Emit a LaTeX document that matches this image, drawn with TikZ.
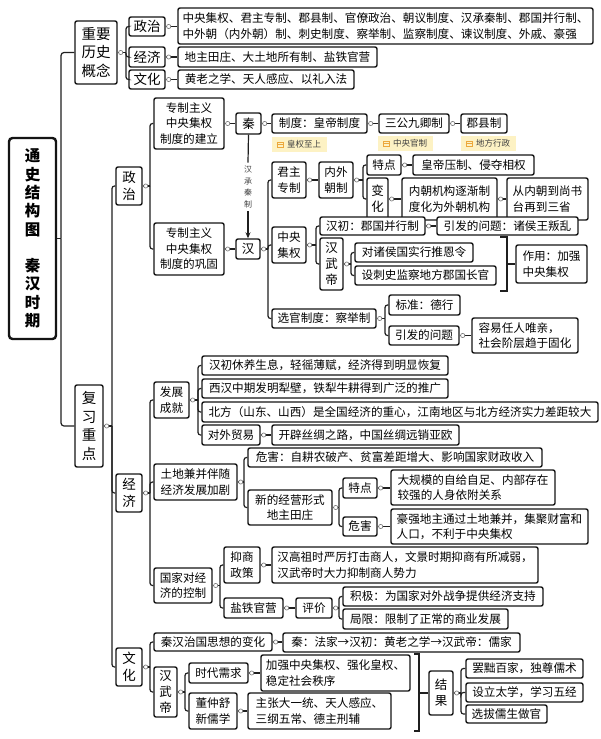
\documentclass[tikz,border=0pt]{standalone}
\usepackage{fontspec}
\setmainfont{Noto Sans CJK SC}
\usetikzlibrary{arrows.meta}
\newcommand{\fs}[2]{\fontsize{#1}{#2}\selectfont}
\definecolor{tagfill}{RGB}{253,242,196}
\definecolor{tagicn}{RGB}{236,168,60}
\tikzset{
 box/.style={draw=black!92, line width=1.4pt, rounded corners=2pt, fill=white, inner sep=1pt, font=\fs{11.6}{15.5}, align=center, text=black},
 lbox/.style={box, align=left},
 hbig/.style={box, font=\fs{14.5}{18.5}},
 hmid/.style={box, font=\fs{13.5}{17}},
 vcol/.style={box, font=\fs{12.5}{16}},
 titlebox/.style={box, line width=2.4pt, rounded corners=3.5pt, font=\bfseries\fs{15.5}{18.3}},
 ln/.style={draw=black!88, line width=1.2pt},
 dotc/.style={circle, draw=black!55, fill=white, line width=0.6pt, inner sep=0pt, minimum size=4.2pt},
 tagbg/.style={fill=tagfill, inner sep=0pt},
 tagicon/.style={draw=tagicn, line width=0.6pt},
 tagtxt/.style={inner sep=0pt, font=\fs{8.5}{10}, text=black!75},
 chtxt/.style={inner sep=0pt, font=\fs{8}{11.7}, text=black!75, align=center}
}
\newcommand{\bx}[7][box]{%
 \pgfmathsetmacro\bxw{#5-#3}%
 \pgfmathsetmacro\bxh{#6-#4}%
 \pgfmathsetmacro\bxx{(#3+#5)/2}%
 \pgfmathsetmacro\bxy{(#4+#6)/2}%
 \node[#1, minimum width=\bxw pt, minimum height=\bxh pt] (#2) at (\bxx,\bxy) {#7};}
\newcommand{\br}[3]{%
 \coordinate (vx) at (#2,0);
 \draw[ln] (#1.east) -- (#1.east -| vx);
 \foreach \ch in {#3}{\draw[ln,rounded corners=2.5pt] (#1.east -| vx) |- (\ch.west);}
 \node[dotc] at ([xshift=3pt]#1.east) {};}
\newcommand{\lk}[2]{%
 \draw[ln] (#1.east) -- (#1.east -| #2.west);
 \node[dotc] at ([xshift=3pt]#1.east) {};}
\newcommand{\tg}[6]{%
 \pgfmathsetmacro\bxw{#4-#2}%
 \pgfmathsetmacro\bxh{#5-#3}%
 \pgfmathsetmacro\bxx{(#2+#4)/2}%
 \pgfmathsetmacro\bxy{(#3+#5)/2}%
 \node[tagbg, minimum width=\bxw pt, minimum height=\bxh pt] (#1) at (\bxx,\bxy) {};
 \draw[tagicon] ([xshift=5pt,yshift=-2.6pt]#1.west) rectangle ([xshift=11pt,yshift=2.6pt]#1.west);
 \draw[tagicon] ([xshift=5pt]#1.west) -- ([xshift=11pt]#1.west);
 \node[tagtxt, anchor=west] (#1t) at ([xshift=15pt]#1.west) {#6};}
\begin{document}
\begin{tikzpicture}[x=1pt,y=-1pt]
\fill[white] (0,0) rectangle (600,739);
\useasboundingbox (0,0) rectangle (600,739);

% level 0
\bx[titlebox]{T}{9}{138}{56}{339}{通\\史\\结\\构\\图\\[18.3pt]秦\\汉\\时\\期}
\bx[hbig]{A}{75}{21}{117}{84}{重要\\历史\\概念}
\bx[hbig]{B}{75}{385}{103}{467}{复\\习\\重\\点}
\coordinate (v0) at (61,0);
\draw[ln] (T.east) -- (T.east -| v0);
\draw[ln,rounded corners=3pt] (T.east -| v0) |- (A.west);
\draw[ln,rounded corners=3pt] (T.east -| v0) |- (B.west);

% 重要历史概念
\bx[hmid]{A1}{129}{17}{165}{36}{政治}
\bx[hmid]{A2}{129}{47}{165}{67}{经济}
\bx[hmid]{A3}{129}{70}{165}{89}{文化}
\br{A}{126}{A1,A2,A3}
\bx[lbox]{A1c}{178}{8}{593}{44}{中央集权、君主专制、郡县制、官僚政治、朝议制度、汉承秦制、郡国并行制、\\中外朝（内外朝）制、刺史制度、察举制、监察制度、谏议制度、外戚、豪强}
\bx[lbox]{A2c}{178}{47}{377}{67}{地主田庄、大土地所有制、盐铁官营}
\bx[lbox]{A3c}{178}{70}{354}{89}{黄老之学、天人感应、以礼入法}
\lk{A1}{A1c}\lk{A2}{A2c}\lk{A3}{A3c}

% 复习重点
\bx[hmid]{P}{116}{167}{142}{205}{政\\治}
\bx[hmid]{E}{116}{474}{142}{512}{经\\济}
\bx[hmid]{C}{116}{648}{142}{686}{文\\化}
\br{B}{112}{P,E,C}

% 政治
\bx{P1}{154}{98}{224}{149}{专制主义\\中央集权\\制度的建立}
\bx{P2}{154}{223}{224}{275}{专制主义\\中央集权\\制度的巩固}
\br{P}{150}{P1,P2}
\bx[vcol]{Qin}{236}{113}{261}{134}{秦}
\bx[vcol]{Han}{236}{239}{260}{259}{汉}
\lk{P1}{Qin}\lk{P2}{Han}
\bx{Q1}{272}{114}{367}{133}{制度：皇帝制度}
\bx{Q2}{379}{114}{449}{133}{三公九卿制}
\bx{Q3}{461}{114}{507}{133}{郡县制}
\lk{Qin}{Q1}\lk{Q1}{Q2}\lk{Q2}{Q3}
\tg{tgA}{272}{137}{327}{152}{皇权至上}
\tg{tgB}{378}{136}{433}{151}{中央官制}
\tg{tgC}{461}{136}{516}{151}{地方行政}
\node[chtxt] (cz) at (248,187) {汉\\承\\秦\\制};
\draw[ln] (Qin.south) -- ([yshift=3pt]cz.north);
\draw[ln,-{Stealth[length=6pt,width=5pt]}] ([yshift=-3pt]cz.south) -- (Han.north);

% 汉
\bx{H1}{272}{162}{306}{198}{君主\\专制}
\bx{H2}{272}{227}{306}{263}{中央\\集权}
\bx{H3}{272}{309}{376}{328}{选官制度：察举制}
\br{Han}{268}{H1,H2,H3}
\bx{H11}{319}{162}{353}{198}{内外\\朝制}
\lk{H1}{H11}
\bx{H111}{367}{155}{401}{175}{特点}
\bx[vcol]{H112}{367}{178}{388}{220}{变\\化}
\br{H11}{363}{H111,H112}
\bx{H1111}{413}{155}{534}{175}{皇帝压制、侵夺相权}
\lk{H111}{H1111}
\bx[lbox]{H1121}{402}{178}{497}{220}{内朝机构逐渐制\\度化为外朝机构}
\bx[lbox]{H1122}{507}{178}{588}{220}{从内朝到尚书\\台再到三省}
\lk{H112}{H1121}\lk{H1121}{H1122}

\bx{H21}{320}{217}{425}{235}{汉初：郡国并行制}
\bx[vcol]{H22}{320}{238}{343}{290}{汉\\武\\帝}
\br{H2}{316}{H21,H22}
\bx{H211}{437}{217}{578}{235}{引发的问题：诸侯王叛乱}
\lk{H21}{H211}
\bx{H221}{355}{243}{473}{262}{对诸侯国实行推恩令}
\bx{H222}{355}{266}{496}{285}{设刺史监察地方郡国长官}
\br{H22}{351}{H221,H222}
\bx[lbox]{H23}{516}{245}{587}{283}{作用：加强\\中央集权}
\draw[ln] (500,237) -- (507,237) -- (507,291) -- (500,291);
\coordinate (brA) at (507,264);
\draw[ln] (brA) -- (brA -| H23.west);

\bx{H31}{389}{295}{460}{315}{标准：德行}
\bx{H32}{389}{326}{459}{345}{引发的问题}
\br{H3}{385}{H31,H32}
\bx[lbox]{H321}{472}{318}{578}{353}{容易任人唯亲，\\社会阶层趋于固化}
\lk{H32}{H321}

% 经济
\bx{E1}{154}{382}{189}{418}{发展\\成就}
\bx{E2}{154}{464}{237}{500}{土地兼并伴随\\经济发展加剧}
\bx{E3}{154}{568}{212}{603}{国家对经\\济的控制}
\br{E}{150}{E1,E2,E3}
\bx[lbox]{E11}{202}{356}{448}{375}{汉初休养生息，轻徭薄赋，经济得到明显恢复}
\bx[lbox]{E12}{202}{379}{448}{398}{西汉中期发明犁壁，铁犁牛耕得到广泛的推广}
\bx[lbox]{E13}{202}{402}{598}{422}{北方（山东、山西）是全国经济的重心，江南地区与北方经济实力差距较大}
\bx{E14}{202}{425}{260}{445}{对外贸易}
\br{E1}{198}{E11,E12,E13,E14}
\bx[lbox]{E141}{272}{425}{459}{445}{开辟丝绸之路，中国丝绸远销亚欧}
\lk{E14}{E141}

\bx[lbox]{E21}{248}{448}{542}{467}{危害：自耕农破产、贫富差距增大、影响国家财政收入}
\bx{E22}{248}{490}{332}{525}{新的经营形式\\地主田庄}
\br{E2}{244}{E21,E22}
\bx{E221}{343}{478}{377}{498}{特点}
\bx{E222}{343}{517}{377}{536}{危害}
\br{E22}{339}{E221,E222}
\bx[lbox]{E2211}{391}{470}{555}{505}{大规模的自给自足、内部存在\\较强的人身依附关系}
\bx[lbox]{E2221}{391}{509}{588}{544}{豪强地主通过土地兼并，集聚财富和\\人口，不利于中央集权}
\lk{E221}{E2211}\lk{E222}{E2221}

\bx{E31}{224}{547}{260}{583}{抑商\\政策}
\bx{E32}{224}{598}{283}{618}{盐铁官营}
\br{E3}{220}{E31,E32}
\bx[lbox]{E311}{272}{547}{538}{583}{汉高祖时严厉打击商人，文景时期抑商有所减弱，\\汉武帝时大力抑制商人势力}
\lk{E31}{E311}
\bx{E321}{296}{598}{332}{618}{评价}
\lk{E32}{E321}
\bx[lbox]{E3211}{343}{587}{543}{606}{积极：为国家对外战争提供经济支持}
\bx[lbox]{E3212}{343}{609}{508}{629}{局限：限制了正常的商业发展}
\br{E321}{339}{E3211,E3212}

% 文化
\bx{C1}{154}{633}{272}{651}{秦汉治国思想的变化}
\bx[vcol]{C2}{154}{667}{177}{717}{汉\\武\\帝}
\br{C}{150}{C1,C2}
\bx{C11}{283}{633}{520}{652}{秦：法家→汉初：黄老之学→汉武帝：儒家}
\lk{C1}{C11}
\bx{C21}{189}{663}{248}{683}{时代需求}
\bx{C22}{189}{693}{237}{729}{董仲舒\\新儒学}
\br{C2}{185}{C21,C22}
\bx[lbox]{C211}{261}{655}{410}{691}{加强中央集权、强化皇权、\\稳定社会秩序}
\bx[lbox]{C221}{248}{693}{391}{729}{主张大一统、天人感应、\\三纲五常、德主刑辅}
\lk{C21}{C211}\lk{C22}{C221}
\bx[vcol]{R}{429}{671}{453}{715}{结\\果}
\draw[ln] (414,654) -- (419,654) -- (419,731) -- (414,731);
\coordinate (brB) at (419,693);
\draw[ln] (brB) -- (brB -| R.west);
\bx{R1}{466}{659}{583}{678}{罢黜百家，独尊儒术}
\bx{R2}{466}{683}{583}{702}{设立太学，学习五经}
\bx{R3}{466}{705}{547}{723}{选拔儒生做官}
\br{R}{461}{R1,R2,R3}
\end{tikzpicture}
\end{document}
